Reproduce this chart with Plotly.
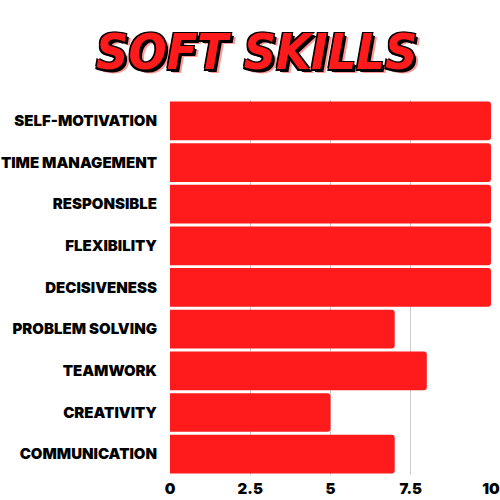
import plotly.graph_objects as go

skills = ["SELF-MOTIVATION", "TIME MANAGEMENT", "RESPONSIBLE", "FLEXIBILITY",
          "DECISIVENESS", "PROBLEM SOLVING", "TEAMWORK", "CREATIVITY", "COMMUNICATION"]
scores = [10, 10, 10, 10, 10, 7, 8, 5, 7]
x_ticks = [0, 2.5, 5, 7.5, 10]
x_labels = ["0", "2.5", "5", "7.5", "10"]
title_text = "SOFT SKILLS"

fig = go.Figure(go.Bar(
    x=scores, y=skills, orientation="h",
    marker=dict(color="#FF1A1C", line=dict(width=0)),
    hoverinfo="skip",
))

fig.update_layout(
    width=500, height=500,
    margin=dict(l=170, r=9, t=100, b=25, autoexpand=False),
    paper_bgcolor="white", plot_bgcolor="white",
    bargap=0.07, barcornerradius=3,
    showlegend=False,
    font=dict(family="Inter", color="black"),
    xaxis=dict(range=[0, 10], tickvals=x_ticks, ticktext=x_labels,
               showgrid=True, gridcolor="#cccccc", gridwidth=1,
               zeroline=False, showline=False, ticks="", automargin=False,
               ticklabeloverflow="allow",
               tickfont=dict(family="Inter", size=15, weight=900),
               ticklabelstandoff=3, fixedrange=True),
    yaxis=dict(categoryorder="array", categoryarray=skills[::-1],
               showgrid=False, zeroline=False, showline=False, ticks="", automargin=False,
               ticklabeloverflow="allow",
               tickfont=dict(family="Inter", size=15, weight=900),
               ticklabelstandoff=12, fixedrange=True),
    annotations=[dict(
        text="<i>" + title_text + "</i>", x=0.271, y=1.128, xref="paper", yref="paper",
        xanchor="center", yanchor="middle", showarrow=False,
        font=dict(family="DejaVu Sans Condensed", size=50, weight=900, color="#FF1A1C",
                  shadow="-1.5px -1.5px 0 #000, 1.5px -1.5px 0 #000, -1.5px 1.5px 0 #000, 1.5px 1.5px 0 #000, 3px 3px 0 #000, 5px 4px 0 #f99"),
    )],
)

fig.write_html("out.html")
